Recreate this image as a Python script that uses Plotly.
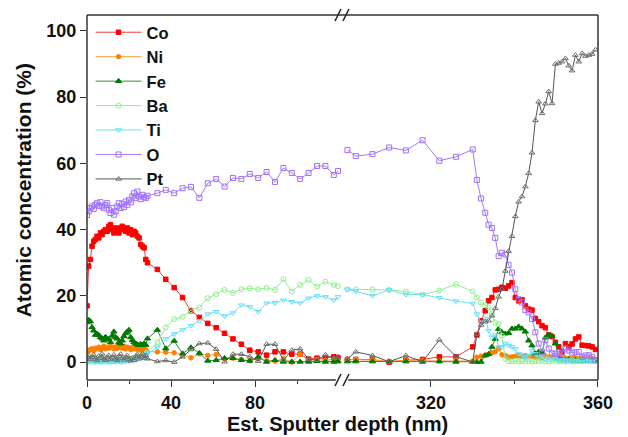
import plotly.graph_objects as go

# ---------------- data ----------------
series_names = ["Co", "Ni", "Fe", "Ba", "Ti", "O", "Pt"]

# left segment depths (nm)
x_left = [0, 0.8, 1.6, 2.4, 3.2, 4.0, 4.8, 5.6, 6.4, 7.2, 8.0, 8.8, 9.6, 10.4, 11.2, 12.0,
          12.8, 13.6, 14.4, 15.2, 16.0, 16.8, 17.6, 18.4, 19.2, 20.0, 20.8, 21.6, 22.4, 23.2,
          24.0, 24.8, 25.6, 26.4, 27.2, 28.0, 28.8,
          33.5, 37.5, 41.5, 45.5, 49.5, 53.5, 57.5, 61.5, 65.5, 69.5, 73.5, 77.5, 81.5, 85.5,
          89.5, 93.5, 97.5, 101.5, 105.5, 109.5, 113.5, 117.5, 119.5]

co_left = [17, 29, 31, 35, 36.5, 37, 38, 37.5, 39, 38.5, 39.5, 40, 39.5, 41, 41.5, 40, 39, 40.5,
           40, 39, 40.5, 41, 40, 39.5, 40.5, 39, 40, 38.5, 39.5, 39, 38, 37.5, 35.5, 35, 34.5, 31, 30,
           28, 25, 22.5, 19.5, 15.5, 13.5, 11.7, 10.4, 8.7, 7, 5.4, 3.6, 3.1, 2.1, 3.1, 3.1, 2.4,
           2.4, 0.9, 1.2, 1.2, 1.6, 1.4]
ni_left = [3, 3.5, 3.8, 4, 3.5, 4.2, 4, 4.5, 3.8, 4.3, 4.8, 4, 4.5, 4.2, 4.8, 4.5, 4, 4.6, 4.2, 5,
           4.5, 4.2, 4.8, 4, 4.5, 4.3, 3.8, 4.4, 4, 4.5, 3.8, 4.2, 3.6, 4, 3.5, 3.8, 3.2,
           3.1, 3, 2.8, 2.2, 1.3, 2.5, 2, 2.3, 1, 1.2, 0.8, 0.4, 1, 0.4, 0.3, 1, 0, 2.3, 0.5, 0.8,
           0.5, 0.8, 0.6]
fe_left = [12, 12.7, 12.3, 10.5, 9.5, 8.2, 8.5, 8.2, 7.5, 7.1, 6.5, 7.6, 6.8, 6.9, 6, 8, 9.2, 7.5,
           7.1, 6, 5.6, 6.5, 7.8, 8.7, 9.2, 9.7, 7.5, 6.6, 6, 5.6, 5.3, 5.1, 5.4, 5.1, 5.6, 5.2, 7.1,
           9.7, 4.1, 6.4, 2.6, 4.4, 2.7, 0.4, 0.6, 1.2, 1.2, 0.6, 0.4, 1.6, 0.1, 0.6, 0.1, 0.1, 0.1,
           0.1, 0.3, 0.1, 0.1, 0.2]
ba_left = [0.5, 0.3, 0.8, 0.4, 0.2, 0.6, 0.3, 0.5, 0.2, 0.4, 0.7, 0.3, 0.5, 0.2, 0.6, 0.4, 0.3, 0.5,
           0.8, 0.4, 0.6, 0.3, 0.5, 0.9, 0.6, 1, 0.8, 1.2, 0.9, 1.4, 1.2, 1.6, 1.5, 2, 2.2, 2.6, 3,
           6, 10.5, 13, 13.7, 15.7, 16.5, 19.3, 20.5, 21.8, 20.9, 22, 22.3, 22, 22.4, 21.8, 25, 21.3,
           23.3, 24.8, 22.8, 24.3, 23.3, 23]
ti_left = [0, 0.3, 0.1, 0.5, 0.2, 0, 0.4, 0.1, 0.3, 0, 0.2, 0.5, 0.1, 0.3, 0, 0.4, 0.2, 0.1, 0.5,
           0.3, 0, 0.2, 0.4, 0.1, 0.6, 0.3, 0.5, 0.8, 0.6, 1, 0.9, 1.2, 1.5, 1.4, 1.8, 2.1, 2.5,
           4.5, 7, 8.5, 9.7, 11, 12.5, 14.5, 15.2, 13.9, 14.8, 17.2, 16.7, 15.2, 17.8, 17.9, 18.7,
           18.2, 17.8, 19.3, 20, 19.7, 18.7, 19.7]
o_left = [44.4, 45.5, 46.5, 47, 46.2, 47.5, 48, 47.2, 48.3, 47, 46.5, 47.4, 48, 46, 45, 46.5, 44.5,
          45.5, 47, 48, 46.5, 47.8, 46.8, 48.5, 47.4, 49, 48.2, 50, 51, 49.5, 51.5, 50, 49.2, 50.5,
          49.8, 49.5, 50.2,
          51, 52, 51, 52.5, 52.9, 49.6, 54, 55.3, 53, 55.6, 55.3, 56.8, 55.6, 57.4, 54.4, 58.6,
          57.1, 55.3, 57.1, 59.2, 59.2, 56.5, 57.7]
pt_left = [1.5, 2, 0.8, 1.5, 2.2, 1, 0.5, 1.8, 1.2, 2.5, 1, 0.6, 1.6, 2, 0.8, 1.4, 2.2, 1, 0.5, 1.8,
           2.4, 1.2, 0.7, 1.5, 2, 0.8, 0.4, 1.2, 0.6, 1.8, 2.3, 1, 1.6, 2.5, 1.2, 2, 1,
           0.2, 0.5, 0, 1.6, 3.8, 5.6, 5.8, 3.9, 0.1, 2.4, 2.4, 1.6, 0.3, 5.4, 5.4, 0.6, 3.6, 4,
           0.9, 0.6, 2.2, 1.2, 1.5]

# right segment depths (nm)
x_right = [300, 302, 306, 310, 314, 318, 322, 326, 330, 331, 332, 333,
           333.8, 334.6, 335.4, 336.2, 337, 337.8, 338.6, 339.4, 340.2, 341, 341.8, 342.6,
           343.4, 344.2, 345, 345.8, 346.6, 347.4, 348.2, 349, 349.8, 350.6, 351.4, 352.2,
           353, 353.8, 354.6, 355.4, 356.2, 357, 357.8, 358.6, 359.4]

co_right = [0.8, 0.8, 0.8, 0, 0.6, 0.8, 1.6, 1.6, 4.6, 8.2, 12.5, 15.5,
            18.5, 19.5, 21.8, 22, 22.6, 22.3, 23, 24, 19.5, 18.5, 18.8, 17, 16, 15.7, 13.2, 12.2,
            11, 10.4, 8.2, 7.7, 6, 4.6, 3.1, 5.6, 4.6, 5.5, 7, 7.6, 5.1, 5, 4.9, 4.6, 3.8]
ni_right = [0.8, 0.8, 0.6, 0.3, 0.5, 0.4, 0.4, 0.5, 0.3, 1.5, 1.8, 2.1,
            2.4, 2.8, 3.1, 4.1, 2.2, 2, 1.5, 1.6, 1.8, 1.9, 1.7, 2, 1.6, 1.8, 1.5, 1.6, 1.4, 1.8,
            1.5, 1.6, 1.2, 1.3, 1, 1.2, 1.1, 1, 1.3, 1, 1.2, 0.9, 1, 1.1, 0.8]
fe_right = [0.2, 0.2, 0.2, 0.1, 0.2, 0.1, 0.2, 0.1, 0.1, 0, 0.1, 2,
            2.4, 4.6, 7, 10, 9, 8.6, 8.8, 10.1, 10.1, 10.7, 10.1, 9.2, 6.5, 5, 2.6, 3.1, 3, 7.4,
            8.2, 7.9, 5.6, 1.1, 0.6, 0.5, 0.8, 0.4, 0.6, 0.3, 0.5, 0.4, 0.3, 0.5, 0.3]
ba_right = [22, 22, 22, 21.8, 21.3, 20.4, 21.6, 23.5, 21.3, 19.5, 18, 17.2,
            16.5, 14.5, 12, 11.5, 8, 1, 0.3, 0.2, 0.4, 0.2, 0.3, 0.2, 0.4, 0.2, 0.3, 0.2, 0.4,
            0.3, 0.2, 0.3, 0.4, 0.2, 0.3, 0.2, 0.4, 0.3, 0.2, 0.3, 0.2, 0.4, 0.3, 0.2, 0.3]
ti_right = [22, 21.4, 20, 21.8, 20.4, 20.4, 19.4, 18.4, 17.7, 14.5, 12, 13.2,
            9.5, 7.5, 8.2, 4.5, 4.6, 5.6, 5, 4.6, 4, 2.5, 2.1, 1.5, 2, 3.5, 2.5, 1.5, 2, 1, 1.5,
            0.8, 1, 0.5, 0.7, 0.4, 0.6, 0.3, 0.5, 0.4, 0.6, 0.3, 0.5, 0.4, 0.3]
o_right = [64, 62.2, 62.8, 64.8, 63.9, 67, 60.8, 62, 64.2, 55, 49.4, 45.1,
           41.5, 40.5, 37.5, 32, 33, 32.5, 29.3, 27, 22, 19, 18, 15.7, 15, 13, 9, 5.6, 3.1, 6.6,
           4.1, 2.6, 2.6, 2.5, 2.7, 4.1, 3.5, 2.8, 3, 3.1, 1.6, 2, 2.1, 1.6, 0.6]
pt_right = [1, 3.1, 2, 0.1, 2, 0.1, 6.7, 1.7, 0, 8.4, 11.2, 12.2,
            12.5, 14, 16.2, 19.7, 22, 27.5, 33.5, 38, 44, 48.4, 50, 53, 57, 63.2, 73, 78.6, 75.1,
            78, 81.7, 78.1, 90, 90.3, 90.7, 91.7, 89.5, 88, 92.7, 90.7, 93.2, 92.4, 92.7, 93, 94.3]

y_ticks = [0, 20, 40, 60, 80, 100]
x_left_ticks = [0, 40, 80]
x_right_ticks = [320, 360]

# ---------------- styles ----------------
styles = {
    "Co": dict(line="#f04040", mcolor="#ff0000", symbol="square", size=4.5),
    "Ni": dict(line="#f5a040", mcolor="#ff8000", symbol="circle", size=4.5),
    "Fe": dict(line="#2f8f3f", mcolor="#007a00", symbol="triangle-up", size=5.5),
    "Ba": dict(line="#90ee90", mcolor="#90ee90", symbol="circle-open", size=5),
    "Ti": dict(line="#70e0f0", mcolor="#60e0ff", symbol="triangle-down-open", size=5),
    "O": dict(line="#a77cf0", mcolor="#a070ff", symbol="square-open", size=5),
    "Pt": dict(line="#555555", mcolor="#707070", symbol="triangle-up-open", size=5),
}

left_data = [co_left, ni_left, fe_left, ba_left, ti_left, o_left, pt_left]
right_data = [co_right, ni_right, fe_right, ba_right, ti_right, o_right, pt_right]

fig = go.Figure()
for name, yl, yr in zip(series_names, left_data, right_data):
    s = styles[name]
    common = dict(mode="lines+markers", legendgroup=name,
                  line=dict(color=s["line"], width=1),
                  marker=dict(color=s["mcolor"], symbol=s["symbol"], size=s["size"],
                              line=dict(color=s["mcolor"], width=1)))
    fig.add_trace(go.Scatter(x=x_left, y=yl, name=name, xaxis="x", yaxis="y",
                             showlegend=True, **common))
    fig.add_trace(go.Scatter(x=x_right, y=yr, name=name, xaxis="x2", yaxis="y",
                             showlegend=False, **common))

FONT = "Liberation Sans, Arial, sans-serif"
split = 0.499
tickfont = dict(family=FONT, size=18, color="#111111", weight="bold")

fig.update_layout(
    width=628, height=437,
    margin=dict(l=79, r=38, t=7, b=65),
    paper_bgcolor="white", plot_bgcolor="white",
    font=dict(family=FONT, color="#111111"),
    xaxis=dict(domain=[0, split], range=[0, 121.4], tickvals=x_left_ticks,
               ticks="outside", ticklen=6, tickwidth=1.2, tickcolor="#333",
               minor=dict(tickvals=[20, 60, 100], ticks="outside", ticklen=3, tickcolor="#333"),
               showgrid=False, zeroline=False, showline=False, tickfont=tickfont,
               anchor="y", automargin=False),
    xaxis2=dict(domain=[split, 1], range=[298.7, 360], tickvals=x_right_ticks,
                ticks="outside", ticklen=6, tickwidth=1.2, tickcolor="#333",
                minor=dict(tickvals=[340], ticks="outside", ticklen=3, tickcolor="#333"),
                showgrid=False, zeroline=False, showline=False, tickfont=tickfont,
                anchor="y", automargin=False),
    yaxis=dict(range=[-5.4, 104.8], tickvals=y_ticks, ticks="outside", ticklen=6,
               tickwidth=1.2, tickcolor="#333", showgrid=False, zeroline=False,
               showline=False, tickfont=tickfont, automargin=False),
    legend=dict(x=0.007, y=1.0, xanchor="left", yanchor="top",
                bgcolor="rgba(0,0,0,0)", borderwidth=0, itemwidth=46,
                font=dict(family=FONT, size=16.5, color="#111111", weight="bold"),
                tracegroupgap=0),
)

# axis titles
fig.add_annotation(text="Est. Sputter depth (nm)", xref="paper", yref="paper",
                   x=0.491, y=-0.1205, xanchor="center", yanchor="middle", showarrow=False,
                   font=dict(family=FONT, size=20, color="#111111", weight="bold"))
fig.add_annotation(text="Atomic concentration (%)", xref="paper", yref="paper",
                   x=-0.125, y=0.52, xanchor="center", yanchor="middle", showarrow=False,
                   textangle=-90,
                   font=dict(family=FONT, size=21, color="#111111", weight="bold"))

# frame
lc = "#333333"
gap = 0.012
shapes = [
    dict(type="line", xref="paper", yref="paper", x0=0, x1=0, y0=0, y1=1, line=dict(color=lc, width=1.5)),
    dict(type="line", xref="paper", yref="paper", x0=1, x1=1, y0=0, y1=1, line=dict(color=lc, width=1.5)),
    dict(type="line", xref="paper", yref="paper", x0=0, x1=1, y0=1, y1=1, line=dict(color=lc, width=1.5)),
    dict(type="line", xref="paper", yref="paper", x0=0, x1=split - gap, y0=0, y1=0, line=dict(color=lc, width=1.5)),
    dict(type="line", xref="paper", yref="paper", x0=split + gap, x1=1, y0=0, y1=0, line=dict(color=lc, width=1.5)),
]
dx = 6 / 511
dy = 6 / 365
for yb in (0, 1):
    for off in (-4 / 511, 4 / 511):
        xc = split + off
        shapes.append(dict(type="line", xref="paper", yref="paper",
                           x0=xc - dx / 2, x1=xc + dx / 2, y0=yb - dy, y1=yb + dy,
                           line=dict(color="#222222", width=1.5)))
fig.update_layout(shapes=shapes)

fig.write_html("out.html")
